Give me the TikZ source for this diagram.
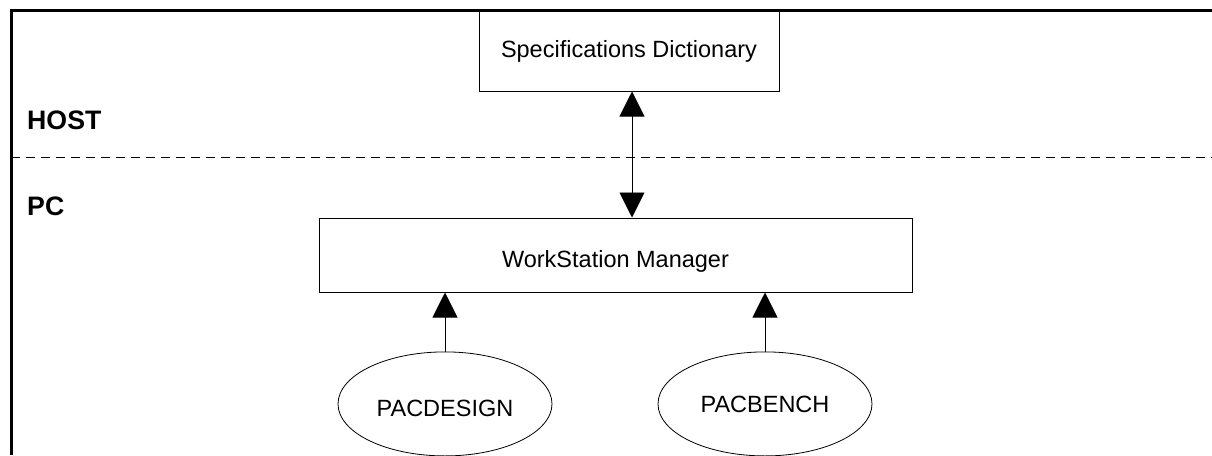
\documentclass[tikz,border=0pt]{standalone}
\usepackage{fontspec}
\setmainfont{Liberation Sans}
\usetikzlibrary{shapes.geometric, arrows.meta, positioning}

\begin{document}
\begin{tikzpicture}[
    x=1pt, y=1pt,
    box/.style={rectangle, draw, fill=white, inner sep=0pt, text centered, line width=1pt, font=\fontsize{23.5}{28}\selectfont},
    prog/.style={ellipse, draw, fill=white, minimum width=214pt, minimum height=104pt, inner sep=0pt, line width=0.8pt, font=\fontsize{23.5}{28}\selectfont},
    side/.style={anchor=west, inner sep=0pt, font=\fontsize{26.7}{32}\selectfont\bfseries},
    arrow/.style={-{Triangle[width=25pt, length=25pt]}, line width=0.9pt},
    twoway/.style={{Triangle[width=25pt, length=25pt]}-{Triangle[width=25pt, length=25pt]}, line width=0.9pt},
    frame/.style={line width=2.6pt},
    divider/.style={dash pattern=on 9pt off 6pt, line width=1.3pt}
]
\useasboundingbox (0,0) rectangle (1212,-455);

% Host side
\node [box, minimum width=300pt, minimum height=80pt] (spec) at (629,-51) {Specifications Dictionary};

% PC side
\node [box, minimum width=593pt, minimum height=74pt, text height=24.9pt, text depth=0pt, below=126pt of spec, xshift=-13.5pt] (manager) {WorkStation Manager};
\node [prog, text height=24.8pt, text depth=0pt, below=59pt of manager, xshift=-170.5pt] (pacdesign) {PACDESIGN};
\node [prog, text height=18pt, text depth=0pt, below=59pt of manager, xshift=149.5pt] (pacbench) {PACBENCH};

% Zone labels
\node [side] (host) at (27,-120) {HOST};
\node [side] (pc) at (27,-206) {PC};

% Frame and divider
\draw [frame] (1212,-10.5) -- (11.3,-10.5) -- (11.3,-455);
\draw [divider] (11.3,-157.5) -- (1212,-157.5);

% Arrows
\draw [twoway] ([xshift=3pt]spec.south) -- ([xshift=3pt]spec.south |- manager.north);
\draw [arrow] (pacdesign.north) -- (pacdesign.north |- manager.south);
\draw [arrow] (pacbench.north) -- (pacbench.north |- manager.south);

\end{tikzpicture}
\end{document}
